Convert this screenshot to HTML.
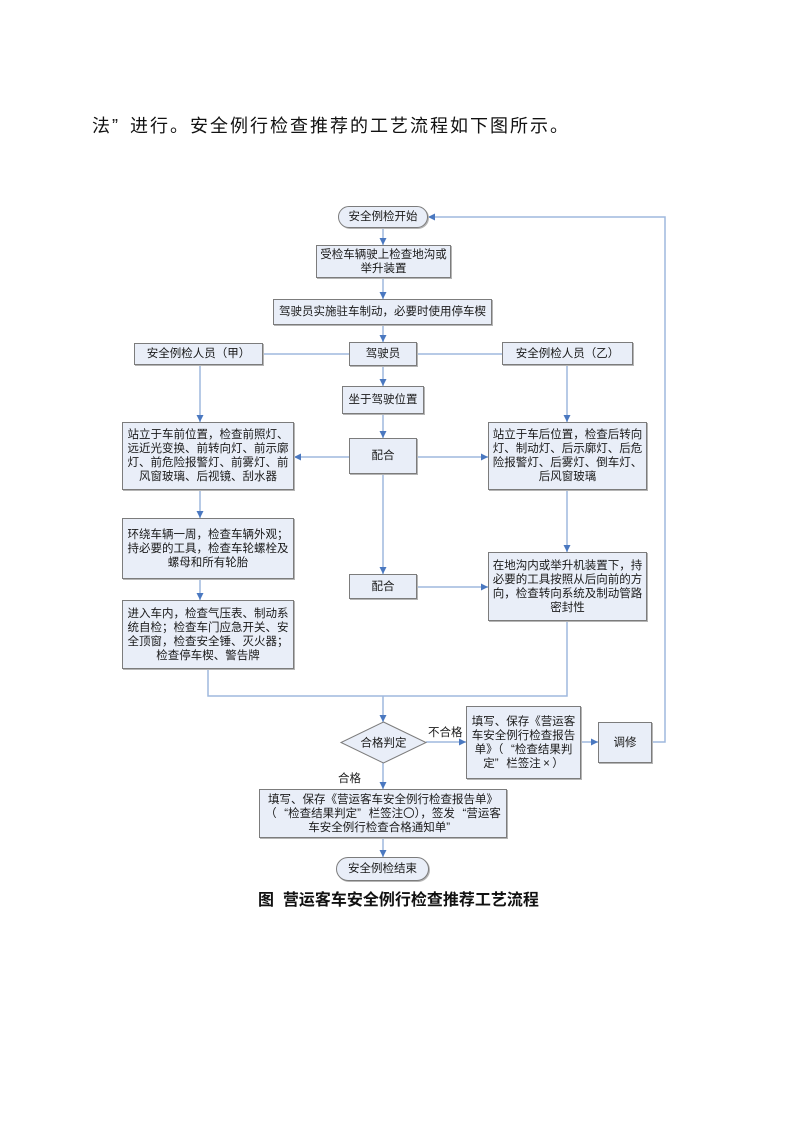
<!DOCTYPE html>
<html>
<head>
<meta charset="utf-8">
<style>
html,body{margin:0;padding:0;background:#fff;}
body{width:793px;height:1122px;position:relative;overflow:hidden;font-family:"Liberation Sans","Noto Sans CJK SC",sans-serif;color:#1a1a1a;}
.t{position:absolute;white-space:nowrap;}
.b{position:absolute;box-sizing:border-box;border:1px solid #7c7c7c;background:#e9eef8;display:flex;align-items:center;justify-content:center;text-align:center;font-size:11.5px;line-height:14px;white-space:nowrap;box-shadow:1px 1px 0 #b5b5b5;}
.b > div{display:block;text-align:center;}
.r{border-radius:12px;}
.qo{display:inline-block;width:1em;text-align:right;}
.qc{display:inline-block;width:1em;text-align:left;}
.qm{display:inline-block;width:1em;text-align:center;}
svg{position:absolute;left:0;top:0;}
</style>
</head>
<body>
<div class="t" style="left:92px;top:115px;font-size:18px;line-height:22px;letter-spacing:2px;color:#111;">法<span class="qc">”</span>进行。安全例行检查推荐的工艺流程如下图所示。</div>

<svg width="793" height="1122" viewBox="0 0 793 1122">
<defs>
<marker id="a" markerUnits="userSpaceOnUse" markerWidth="8" markerHeight="8" refX="7" refY="4" orient="auto">
<path d="M0,0.5 L7,4 L0,7.5 z" fill="#4a78c0"/>
</marker>
</defs>
<g stroke="#9fb9de" stroke-width="1.5" fill="none">
<line x1="383" y1="228" x2="383" y2="245" marker-end="url(#a)"/>
<line x1="383" y1="278" x2="383" y2="299" marker-end="url(#a)"/>
<line x1="383" y1="325" x2="383" y2="342" marker-end="url(#a)"/>
<line x1="263" y1="354" x2="349" y2="354"/>
<line x1="417" y1="354" x2="502" y2="354"/>
<line x1="383" y1="366" x2="383" y2="386" marker-end="url(#a)"/>
<line x1="383" y1="414" x2="383" y2="438" marker-end="url(#a)"/>
<line x1="349" y1="457" x2="294" y2="457" marker-end="url(#a)"/>
<line x1="417" y1="457" x2="488" y2="457" marker-end="url(#a)"/>
<line x1="383" y1="474" x2="383" y2="574" marker-end="url(#a)"/>
<line x1="417" y1="587" x2="488" y2="587" marker-end="url(#a)"/>
<line x1="200" y1="365" x2="200" y2="422" marker-end="url(#a)"/>
<line x1="200" y1="490" x2="200" y2="518" marker-end="url(#a)"/>
<line x1="200" y1="579" x2="200" y2="600" marker-end="url(#a)"/>
<polyline points="208,669 208,696 567,696 567,621"/>
<line x1="567" y1="365" x2="567" y2="422" marker-end="url(#a)"/>
<line x1="567" y1="490" x2="567" y2="552" marker-end="url(#a)"/>
<line x1="383" y1="696" x2="383" y2="722" marker-end="url(#a)"/>
<line x1="426" y1="742" x2="466" y2="742" marker-end="url(#a)"/>
<line x1="581" y1="742" x2="598" y2="742" marker-end="url(#a)"/>
<polyline points="652,742 665,742 665,217 428,217" marker-end="url(#a)"/>
<line x1="383" y1="763" x2="383" y2="789" marker-end="url(#a)"/>
<line x1="383" y1="838" x2="383" y2="857" marker-end="url(#a)"/>
</g>
<polygon points="383.5,722 426,742.5 383.5,763 341,742.5" fill="#e9eef8" stroke="#7c7c7c" stroke-width="1"/>
<text x="383.5" y="746.5" text-anchor="middle" font-size="11.5" font-family="Liberation Sans, Noto Sans CJK SC, sans-serif" fill="#1a1a1a">合格判定</text>
</svg>

<div class="b r" style="left:338px;top:206px;width:90px;height:22px;"><div>安全例检开始</div></div>
<div class="b" style="left:316px;top:245px;width:135px;height:33px;"><div>受检车辆驶上检查地沟或<br>举升装置</div></div>
<div class="b" style="left:273px;top:299px;width:219px;height:26px;"><div>驾驶员实施驻车制动，必要时使用停车楔</div></div>
<div class="b" style="left:134px;top:343px;width:129px;height:22px;"><div>安全例检人员（甲）</div></div>
<div class="b" style="left:349px;top:342px;width:68px;height:24px;"><div>驾驶员</div></div>
<div class="b" style="left:502px;top:342px;width:131px;height:23px;"><div>安全例检人员（乙）</div></div>
<div class="b" style="left:342px;top:386px;width:82px;height:28px;"><div>坐于驾驶位置</div></div>
<div class="b" style="left:349px;top:438px;width:68px;height:36px;"><div>配合</div></div>
<div class="b" style="left:122px;top:422px;width:172px;height:68px;"><div>站立于车前位置，检查前照灯、<br>远近光变换、前转向灯、前示廓<br>灯、前危险报警灯、前雾灯、前<br>风窗玻璃、后视镜、刮水器</div></div>
<div class="b" style="left:488px;top:422px;width:159px;height:68px;"><div>站立于车后位置，检查后转向<br>灯、制动灯、后示廓灯、后危<br>险报警灯、后雾灯、倒车灯、<br>后风窗玻璃</div></div>
<div class="b" style="left:122px;top:518px;width:172px;height:61px;"><div>环绕车辆一周，检查车辆外观；<br>持必要的工具，检查车轮螺栓及<br>螺母和所有轮胎</div></div>
<div class="b" style="left:122px;top:600px;width:172px;height:69px;"><div>进入车内，检查气压表、制动系<br>统自检；检查车门应急开关、安<br>全顶窗，检查安全锤、灭火器；<br>检查停车楔、警告牌</div></div>
<div class="b" style="left:349px;top:574px;width:68px;height:25px;"><div>配合</div></div>
<div class="b" style="left:488px;top:552px;width:159px;height:69px;"><div>在地沟内或举升机装置下，持<br>必要的工具按照从后向前的方<br>向，检查转向系统及制动管路<br>密封性</div></div>
<div class="b" style="left:466px;top:706px;width:115px;height:73px;"><div>填写、保存《营运客<br>车安全例行检查报告<br>单》（<span class="qo">“</span>检查结果判<br>定<span class="qc">”</span>栏签注<span class="qm">×</span>）</div></div>
<div class="b" style="left:598px;top:722px;width:54px;height:41px;"><div>调修</div></div>
<div class="b" style="left:259px;top:789px;width:248px;height:49px;"><div>填写、保存《营运客车安全例行检查报告单》<br>（<span class="qo">“</span>检查结果判定<span class="qc">”</span>栏签注〇），签发<span class="qo">“</span>营运客<br>车安全例行检查合格通知单<span class="qc">”</span></div></div>
<div class="b r" style="left:336px;top:857px;width:93px;height:24px;"><div>安全例检结束</div></div>

<div class="t" style="left:428px;top:726px;font-size:11.5px;line-height:14px;">不合格</div>
<div class="t" style="left:338px;top:772px;font-size:11.5px;line-height:14px;">合格</div>

<div class="t" style="left:258px;top:891px;font-size:16px;line-height:20px;font-weight:bold;color:#111;">图&nbsp;&nbsp;营运客车安全例行检查推荐工艺流程</div>
</body>
</html>
